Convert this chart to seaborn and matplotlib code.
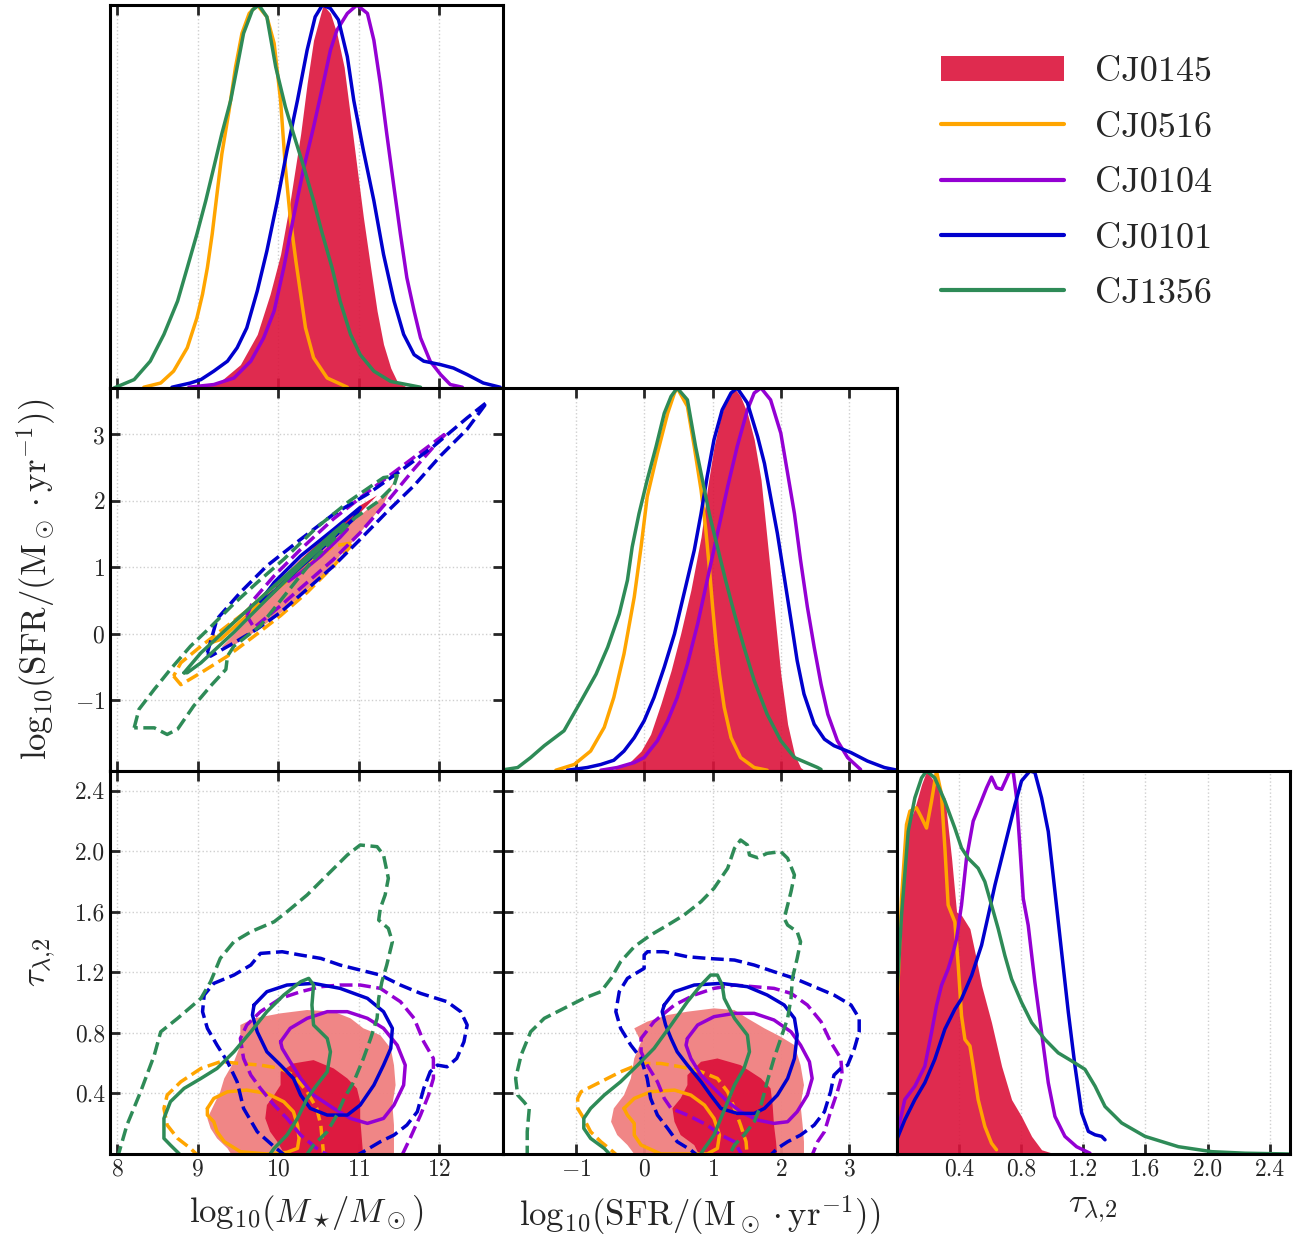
import matplotlib
matplotlib.use("Agg")
import matplotlib.pyplot as plt
import seaborn as sns
import pandas as pd
from matplotlib.patches import Patch
from matplotlib.lines import Line2D

# ---------------------------------------------------------------- data
SOURCES = ["CJ0145", "CJ0516", "CJ0104", "CJ0101", "CJ1356"]
LINE_COLORS = ["crimson", "orange", "darkviolet", "mediumblue", "seagreen"]

MASS_TICKS = [8, 9, 10, 11, 12]
SFR_TICKS = [-1, 0, 1, 2, 3]
SFR_TICK_LABELS = [r"$-1$", r"$0$", r"$1$", r"$2$", r"$3$"]
TAU_TICKS = [0.4, 0.8, 1.2, 1.6, 2.0, 2.4]
TAU_TICK_LABELS = ["0.4", "0.8", "1.2", "1.6", "2.0", "2.4"]

# 1D marginals (x, normalised density) — log10 stellar mass
M_PDF_CJ0145 = [(9.01,0.002),(9.28,0.017),(9.53,0.061),(9.74,0.140),(9.90,0.245),(10.03,0.349),(10.15,0.489),(10.28,0.664),(10.36,0.795),(10.44,0.908),(10.53,0.978),(10.56,1.0),(10.65,0.978),(10.73,0.926),(10.82,0.838),(10.90,0.707),(10.98,0.576),(11.06,0.445),(11.15,0.314),(11.23,0.201),(11.31,0.114),(11.40,0.052),(11.48,0.017),(11.60,0.002)]
M_PDF_CJ0516 = [(8.33,0.002),(8.54,0.013),(8.70,0.044),(8.87,0.105),(8.99,0.183),(9.06,0.245),(9.12,0.314),(9.18,0.402),(9.24,0.507),(9.30,0.611),(9.39,0.725),(9.47,0.838),(9.55,0.926),(9.64,0.978),(9.74,1.0),(9.86,0.969),(9.95,0.900),(10.03,0.751),(10.09,0.576),(10.15,0.445),(10.22,0.332),(10.28,0.245),(10.34,0.157),(10.44,0.079),(10.61,0.026),(10.86,0.002)]
M_PDF_CJ0104 = [(8.89,0.002),(9.20,0.009),(9.45,0.026),(9.66,0.070),(9.82,0.131),(9.95,0.201),(10.07,0.314),(10.19,0.445),(10.32,0.576),(10.44,0.681),(10.57,0.804),(10.65,0.882),(10.73,0.934),(10.86,0.978),(10.98,1.0),(11.11,0.978),(11.19,0.908),(11.27,0.795),(11.35,0.664),(11.44,0.524),(11.52,0.402),(11.60,0.288),(11.69,0.201),(11.77,0.131),(11.89,0.070),(12.02,0.035),(12.14,0.009),(12.29,0.002)]
M_PDF_CJ0101 = [(8.68,0.002),(8.91,0.013),(9.04,0.022),(9.20,0.044),(9.37,0.070),(9.49,0.105),(9.61,0.157),(9.74,0.253),(9.86,0.358),(9.99,0.489),(10.11,0.620),(10.24,0.751),(10.36,0.882),(10.46,0.969),(10.55,1.0),(10.65,0.991),(10.75,0.961),(10.86,0.865),(10.94,0.751),(11.06,0.620),(11.19,0.489),(11.31,0.349),(11.44,0.227),(11.56,0.140),(11.69,0.087),(11.81,0.070),(12.02,0.061),(12.18,0.052),(12.35,0.035),(12.55,0.013),(12.76,0.002)]
M_PDF_CJ1356 = [(7.96,0.0),(8.21,0.022),(8.41,0.070),(8.58,0.140),(8.75,0.227),(8.87,0.314),(8.99,0.402),(9.10,0.489),(9.20,0.576),(9.30,0.664),(9.41,0.751),(9.49,0.838),(9.57,0.926),(9.68,0.987),(9.76,1.0),(9.86,0.969),(9.97,0.838),(10.09,0.734),(10.19,0.664),(10.32,0.576),(10.44,0.489),(10.55,0.402),(10.67,0.314),(10.77,0.227),(10.90,0.140),(11.02,0.087),(11.19,0.044),(11.40,0.017),(11.77,0.002)]

# log10 SFR
S_PDF_CJ0145 = [(-0.49,0.002),(-0.25,0.017),(-0.05,0.052),(0.09,0.096),(0.24,0.175),(0.39,0.262),(0.53,0.358),(0.68,0.472),(0.83,0.611),(0.92,0.734),(1.02,0.847),(1.12,0.926),(1.22,0.978),(1.32,1.0),(1.41,0.978),(1.51,0.934),(1.61,0.865),(1.71,0.760),(1.80,0.603),(1.90,0.428),(2.0,0.253),(2.10,0.122),(2.20,0.044),(2.29,0.009),(2.34,0.002)]
S_PDF_CJ0516 = [(-1.30,0.002),(-1.03,0.017),(-0.79,0.052),(-0.59,0.114),(-0.45,0.192),(-0.30,0.306),(-0.15,0.454),(-0.05,0.585),(0.04,0.716),(0.19,0.830),(0.34,0.934),(0.44,0.987),(0.48,1.0),(0.63,0.952),(0.73,0.847),(0.83,0.734),(0.90,0.629),(0.95,0.533),(1.0,0.428),(1.05,0.332),(1.10,0.253),(1.17,0.166),(1.27,0.087),(1.41,0.035),(1.61,0.009),(1.80,0.002)]
S_PDF_CJ0104 = [(-0.64,0.002),(-0.40,0.009),(-0.15,0.022),(-0.005,0.035),(0.19,0.079),(0.34,0.131),(0.48,0.192),(0.63,0.279),(0.78,0.384),(0.92,0.498),(1.07,0.620),(1.22,0.742),(1.36,0.847),(1.51,0.943),(1.61,0.987),(1.71,1.0),(1.85,0.969),(2.0,0.882),(2.10,0.777),(2.20,0.672),(2.29,0.550),(2.39,0.428),(2.49,0.323),(2.59,0.227),(2.69,0.148),(2.83,0.079),(2.98,0.035),(3.17,0.004)]
S_PDF_CJ0101 = [(-1.13,0.002),(-0.84,0.009),(-0.64,0.017),(-0.45,0.028),(-0.30,0.052),(-0.15,0.087),(-0.005,0.131),(0.14,0.192),(0.29,0.271),(0.44,0.358),(0.58,0.463),(0.73,0.576),(0.83,0.672),(0.92,0.769),(1.02,0.865),(1.14,0.943),(1.27,0.987),(1.36,1.0),(1.51,0.961),(1.66,0.873),(1.76,0.803),(1.85,0.716),(1.95,0.620),(2.05,0.507),(2.15,0.393),(2.24,0.288),(2.34,0.201),(2.49,0.122),(2.64,0.083),(2.78,0.066),(3.03,0.048),(3.27,0.026),(3.52,0.009),(3.71,0.002)]
S_PDF_CJ1356 = [(-2.11,0.002),(-1.86,0.009),(-1.67,0.035),(-1.47,0.066),(-1.18,0.105),(-0.93,0.183),(-0.71,0.253),(-0.54,0.323),(-0.37,0.410),(-0.25,0.498),(-0.18,0.585),(-0.08,0.672),(0.04,0.760),(0.17,0.847),(0.29,0.934),(0.39,0.978),(0.48,1.0),(0.63,0.969),(0.75,0.847),(0.85,0.760),(0.95,0.672),(1.07,0.585),(1.19,0.498),(1.32,0.410),(1.46,0.323),(1.61,0.236),(1.80,0.148),(2.0,0.079),(2.20,0.035),(2.54,0.009),(2.59,0.004)]

# tau_lambda,2
T_PDF_CJ0145 = [(0.0,0.405),(0.042,0.755),(0.085,0.869),(0.117,0.904),(0.160,0.965),(0.192,1.0),(0.224,0.982),(0.310,0.930),(0.353,0.772),(0.385,0.632),(0.417,0.623),(0.471,0.588),(0.503,0.527),(0.546,0.440),(0.610,0.343),(0.675,0.229),(0.739,0.142),(0.803,0.098),(0.868,0.046),(0.932,0.011),(1.018,0.0)]
T_PDF_CJ0516 = [(0.0,0.361),(0.031,0.667),(0.063,0.860),(0.085,0.895),(0.127,0.904),(0.160,0.878),(0.192,0.851),(0.224,0.921),(0.256,1.0),(0.288,0.939),(0.310,0.799),(0.331,0.650),(0.374,0.606),(0.396,0.492),(0.417,0.361),(0.439,0.299),(0.471,0.282),(0.492,0.229),(0.524,0.142),(0.567,0.072),(0.610,0.028),(0.642,0.011)]
T_PDF_CJ0104 = [(0.0,0.046),(0.052,0.142),(0.117,0.177),(0.181,0.229),(0.224,0.317),(0.256,0.387),(0.288,0.440),(0.331,0.483),(0.364,0.527),(0.385,0.562),(0.417,0.650),(0.449,0.772),(0.492,0.869),(0.535,0.912),(0.578,0.956),(0.610,0.984),(0.642,0.956),(0.675,0.952),(0.728,1.0),(0.750,0.996),(0.771,0.930),(0.793,0.799),(0.814,0.667),(0.846,0.597),(0.889,0.448),(0.932,0.317),(0.975,0.186),(1.018,0.098),(1.082,0.046),(1.157,0.019),(1.243,0.002)]
T_PDF_CJ0101 = [(0.0,0.037),(0.052,0.089),(0.117,0.142),(0.181,0.186),(0.245,0.247),(0.310,0.326),(0.374,0.378),(0.417,0.405),(0.482,0.466),(0.546,0.545),(0.589,0.623),(0.632,0.702),(0.675,0.772),(0.718,0.842),(0.761,0.912),(0.803,0.974),(0.857,1.0),(0.889,0.996),(0.932,0.930),(0.975,0.842),(1.018,0.685),(1.061,0.527),(1.104,0.370),(1.147,0.229),(1.190,0.107),(1.233,0.059),(1.276,0.050),(1.318,0.046),(1.340,0.037)]
T_PDF_CJ1356 = [(0.0,0.405),(0.031,0.623),(0.074,0.842),(0.117,0.930),(0.160,0.982),(0.192,1.0),(0.245,0.982),(0.310,0.921),(0.374,0.851),(0.417,0.799),(0.460,0.772),(0.524,0.746),(0.567,0.711),(0.610,0.650),(0.653,0.588),(0.696,0.518),(0.739,0.457),(0.803,0.396),(0.868,0.343),(0.954,0.299),(1.039,0.264),(1.125,0.243),(1.211,0.221),(1.276,0.177),(1.340,0.124),(1.447,0.081),(1.597,0.046),(1.812,0.019),(2.027,0.006),(2.241,0.002),(2.520,0.0)]

# 2D credible contours (inner = 1 sigma, outer = 2 sigma): mass vs SFR
MS_OUT_CJ0145 = [(9.30,-0.20),(9.66,0.25),(10.03,0.72),(10.44,1.17),(10.86,1.62),(11.27,2.03),(11.44,2.28),(11.31,1.95),(10.94,1.40),(10.53,0.85),(10.11,0.38),(9.74,0.05),(9.42,-0.20)]
MS_IN_CJ0145 = [(9.95,0.72),(10.28,1.12),(10.69,1.57),(11.02,1.93),(11.23,2.08),(11.11,1.93),(10.69,1.42),(10.28,0.97),(9.99,0.67)]
MS_OUT_CJ0516 = [(8.70,-0.64),(8.79,-0.77),(9.04,-0.59),(9.37,-0.34),(9.70,-0.04),(10.03,0.27),(10.36,0.62),(10.69,1.02),(10.94,1.37),(10.69,1.32),(10.36,1.02),(10.03,0.72),(9.70,0.42),(9.37,0.12),(9.04,-0.19),(8.79,-0.44)]
MS_IN_CJ0516 = [(9.16,-0.14),(9.45,0.17),(9.86,0.62),(10.19,0.97),(10.44,1.22),(10.53,1.27),(10.36,1.07),(10.03,0.72),(9.66,0.32),(9.28,-0.09)]
MS_OUT_CJ0104 = [(9.61,0.27),(9.70,0.52),(9.95,0.87),(10.28,1.27),(10.69,1.73),(11.11,2.13),(11.44,2.43),(11.77,2.73),(12.10,3.03),(11.98,2.88),(11.69,2.48),(11.35,1.98),(11.02,1.52),(10.69,1.12),(10.36,0.77),(10.03,0.42),(9.70,0.09)]
MS_IN_CJ0104 = [(10.11,0.82),(10.28,1.02),(10.53,1.27),(10.77,1.55),(10.86,1.57),(10.77,1.45),(10.53,1.17),(10.28,0.92),(10.13,0.79)]
MS_OUT_CJ0101 = [(9.12,-0.29),(9.24,0.22),(9.53,0.62),(9.86,1.02),(10.28,1.42),(10.69,1.80),(11.11,2.10),(11.52,2.45),(11.93,2.82),(12.35,3.25),(12.60,3.49),(12.35,3.08),(12.02,2.68),(11.69,2.23),(11.35,1.83),(11.02,1.42),(10.69,1.02),(10.36,0.67),(10.03,0.32),(9.74,0.07),(9.45,-0.14),(9.16,-0.34)]
MS_IN_CJ0101 = [(9.78,0.49),(9.95,0.77),(10.28,1.17),(10.69,1.57),(11.02,1.90),(10.94,1.73),(10.53,1.27),(10.11,0.82),(9.82,0.49)]
MS_OUT_CJ1356 = [(8.21,-1.42),(8.27,-1.14),(8.46,-0.84),(8.66,-0.54),(8.91,-0.19),(9.16,0.10),(9.45,0.45),(9.74,0.77),(10.07,1.12),(10.48,1.60),(10.89,2.00),(11.31,2.35),(11.48,2.38),(11.44,2.23),(11.23,1.98),(10.94,1.73),(10.69,1.42),(10.44,1.12),(10.11,0.62),(9.78,0.12),(9.45,-0.19),(9.37,-0.34),(9.35,-0.54),(9.16,-0.79),(8.95,-1.09),(8.75,-1.44),(8.62,-1.52),(8.46,-1.42)]
MS_IN_CJ1356 = [(8.83,-0.59),(9.04,-0.29),(9.45,0.17),(9.86,0.62),(10.28,1.07),(10.69,1.52),(10.82,1.65),(10.69,1.47),(10.28,1.02),(9.86,0.52),(9.45,0.02),(9.04,-0.44),(8.87,-0.59)]

# mass vs tau
MT_OUT_CJ0145 = [(9.53,0.852),(9.70,0.896),(10.03,0.929),(10.36,0.951),(10.69,0.940),(10.90,0.896),(11.06,0.830),(11.27,0.785),(11.40,0.697),(11.44,0.587),(11.46,0.455),(11.42,0.323),(11.44,0.191),(11.44,0.081),(11.44,-0.03),(9.45,-0.03),(9.37,0.037),(9.24,0.103),(9.16,0.169),(9.12,0.235),(9.20,0.323),(9.28,0.411),(9.33,0.499),(9.45,0.609),(9.53,0.719)]
MT_IN_CJ0145 = [(10.03,0.543),(10.19,0.598),(10.44,0.620),(10.69,0.565),(10.86,0.499),(10.98,0.433),(11.02,0.345),(11.02,0.235),(11.04,0.103),(11.06,-0.03),(10.11,-0.03),(9.99,0.081),(9.90,0.147),(9.84,0.235),(9.86,0.323),(9.95,0.389),(10.03,0.455)]
MT_OUT_CJ0516 = [(9.04,-0.03),(8.91,0.037),(8.75,0.103),(8.62,0.191),(8.58,0.301),(8.62,0.389),(8.79,0.477),(9.04,0.565),(9.28,0.609),(9.53,0.598),(9.78,0.587),(10.03,0.565),(10.19,0.521),(10.36,0.411),(10.48,0.301),(10.53,0.191),(10.55,0.081),(10.57,-0.03)]
MT_IN_CJ0516 = [(9.12,0.301),(9.20,0.367),(9.37,0.411),(9.61,0.422),(9.86,0.400),(10.07,0.345),(10.19,0.279),(10.24,0.191),(10.26,0.103),(10.24,0.037),(10.11,0.011),(9.86,0.0),(9.53,0.015),(9.33,0.081),(9.24,0.147),(9.20,0.213),(9.12,0.257)]
MT_OUT_CJ0104 = [(10.69,-0.03),(10.48,0.037),(10.28,0.125),(10.11,0.235),(9.95,0.323),(9.78,0.433),(9.66,0.521),(9.57,0.631),(9.53,0.763),(9.61,0.852),(9.78,0.940),(10.03,1.028),(10.28,1.072),(10.53,1.105),(10.77,1.116),(11.02,1.116),(11.27,1.094),(11.52,1.006),(11.69,0.896),(11.81,0.741),(11.93,0.631),(11.93,0.499),(11.87,0.389),(11.77,0.257),(11.64,0.103),(11.52,-0.03)]
MT_IN_CJ0104 = [(10.03,0.741),(10.15,0.830),(10.36,0.896),(10.61,0.940),(10.86,0.940),(11.11,0.896),(11.31,0.830),(11.48,0.719),(11.58,0.587),(11.56,0.455),(11.44,0.323),(11.31,0.235),(11.11,0.202),(10.90,0.235),(10.69,0.301),(10.44,0.389),(10.28,0.499),(10.15,0.609),(10.05,0.697)]
MT_OUT_CJ0101 = [(10.11,-0.02),(9.95,0.048),(9.74,0.147),(9.57,0.301),(9.49,0.477),(9.37,0.609),(9.24,0.719),(9.12,0.830),(9.06,0.940),(9.08,1.050),(9.20,1.127),(9.45,1.182),(9.66,1.248),(9.78,1.325),(10.05,1.336),(10.28,1.314),(10.53,1.292),(10.77,1.248),(11.02,1.215),(11.27,1.182),(11.52,1.116),(11.77,1.061),(12.10,1.006),(12.27,0.940),(12.35,0.852),(12.31,0.741),(12.22,0.631),(12.10,0.576),(11.98,0.587),(11.89,0.543),(11.81,0.433),(11.73,0.279),(11.60,0.191),(11.44,0.125),(11.27,0.081),(11.06,0.015),(10.94,-0.02)]
MT_IN_CJ0101 = [(9.70,0.984),(9.86,1.072),(10.11,1.116),(10.44,1.127),(10.77,1.094),(11.11,1.028),(11.31,0.940),(11.42,0.830),(11.40,0.697),(11.31,0.587),(11.19,0.455),(11.02,0.323),(10.86,0.257),(10.61,0.257),(10.40,0.301),(10.28,0.389),(10.19,0.499),(10.03,0.587),(9.86,0.675),(9.74,0.807),(9.68,0.918)]
MT_OUT_CJ1356 = [(8.0,-0.03),(8.12,0.191),(8.29,0.411),(8.46,0.653),(8.54,0.807),(8.75,0.896),(9.04,1.028),(9.16,1.138),(9.28,1.292),(9.45,1.402),(9.66,1.468),(9.95,1.534),(10.11,1.600),(10.36,1.711),(10.61,1.843),(10.86,1.975),(11.02,2.041),(11.23,2.030),(11.31,1.975),(11.37,1.821),(11.33,1.711),(11.27,1.622),(11.25,1.545),(11.37,1.490),(11.42,1.402),(11.35,1.248),(11.29,1.138),(11.25,1.028),(11.23,0.896),(11.15,0.763),(11.06,0.631),(10.94,0.477),(10.82,0.367),(10.73,0.257),(10.61,0.147),(10.44,0.059),(10.32,-0.03)]
MT_IN_CJ1356 = [(8.83,-0.03),(8.66,0.059),(8.58,0.103),(8.58,0.235),(8.66,0.345),(8.83,0.433),(9.04,0.499),(9.24,0.565),(9.45,0.675),(9.66,0.807),(9.86,0.940),(10.07,1.050),(10.28,1.138),(10.38,1.160),(10.44,1.116),(10.42,0.984),(10.44,0.852),(10.61,0.763),(10.65,0.675),(10.61,0.543),(10.48,0.455),(10.36,0.367),(10.24,0.235),(10.11,0.125),(9.95,0.037),(9.86,-0.03)]

# SFR vs tau
ST_OUT_CJ0145 = [(-0.15,0.830),(0.04,0.874),(0.34,0.918),(0.63,0.940),(1.02,0.962),(1.32,0.951),(1.51,0.896),(1.76,0.830),(2.0,0.774),(2.20,0.719),(2.29,0.587),(2.34,0.455),(2.29,0.323),(2.32,0.191),(2.34,0.081),(2.34,-0.03),(-0.10,-0.03),(-0.25,0.059),(-0.40,0.125),(-0.49,0.213),(-0.45,0.301),(-0.30,0.389),(-0.20,0.499),(-0.15,0.631),(-0.05,0.741)]
ST_IN_CJ0145 = [(0.63,0.521),(0.83,0.609),(1.07,0.631),(1.41,0.587),(1.71,0.499),(1.85,0.433),(1.88,0.323),(1.90,0.191),(1.93,0.081),(1.95,-0.03),(0.83,-0.03),(0.73,0.059),(0.53,0.125),(0.44,0.213),(0.41,0.301),(0.53,0.367),(0.63,0.455)]
ST_OUT_CJ0516 = [(-0.35,-0.03),(-0.49,0.026),(-0.64,0.081),(-0.79,0.147),(-0.89,0.235),(-0.98,0.301),(-0.98,0.367),(-0.93,0.411),(-0.64,0.477),(-0.35,0.543),(-0.05,0.598),(0.24,0.598),(0.53,0.576),(0.83,0.543),(1.07,0.499),(1.22,0.411),(1.32,0.301),(1.41,0.191),(1.49,0.081),(1.51,-0.03)]
ST_IN_CJ0516 = [(-0.30,0.301),(-0.15,0.367),(0.09,0.411),(0.44,0.422),(0.68,0.389),(0.88,0.323),(1.02,0.235),(1.10,0.125),(1.07,0.037),(0.92,0.0),(0.24,0.0),(-0.05,0.059),(-0.15,0.125),(-0.15,0.202),(-0.25,0.257)]
ST_OUT_CJ0104 = [(1.46,-0.03),(1.32,0.081),(1.12,0.125),(0.92,0.191),(0.63,0.257),(0.39,0.301),(0.29,0.367),(0.19,0.477),(0.04,0.587),(-0.05,0.675),(-0.05,0.763),(0.14,0.874),(0.44,0.984),(0.73,1.050),(1.02,1.094),(1.32,1.116),(1.61,1.105),(1.90,1.094),(2.15,1.061),(2.39,0.984),(2.59,0.874),(2.73,0.741),(2.88,0.631),(2.90,0.521),(2.83,0.411),(2.73,0.279),(2.64,0.147),(2.54,0.081),(2.44,-0.03)]
ST_IN_CJ0104 = [(0.63,0.763),(0.78,0.852),(1.02,0.907),(1.32,0.929),(1.61,0.929),(1.90,0.885),(2.15,0.807),(2.29,0.719),(2.42,0.609),(2.46,0.499),(2.39,0.389),(2.24,0.279),(2.10,0.213),(1.90,0.202),(1.66,0.224),(1.41,0.279),(1.22,0.345),(1.02,0.433),(0.83,0.521),(0.68,0.631),(0.61,0.719)]
ST_OUT_CJ0101 = [(0.83,-0.03),(0.68,0.026),(0.48,0.081),(0.34,0.169),(0.19,0.257),(0.09,0.367),(0.04,0.499),(-0.05,0.631),(-0.20,0.719),(-0.35,0.830),(-0.42,0.940),(-0.37,1.072),(-0.25,1.160),(-0.005,1.226),(-0.005,1.314),(0.044,1.336),(0.29,1.336),(0.63,1.303),(0.92,1.292),(1.32,1.281),(1.61,1.248),(1.90,1.204),(2.20,1.160),(2.49,1.105),(2.78,1.050),(3.03,0.984),(3.15,0.896),(3.15,0.807),(3.08,0.697),(2.98,0.587),(2.88,0.565),(2.78,0.521),(2.73,0.411),(2.64,0.279),(2.49,0.191),(2.29,0.125),(2.10,0.081),(1.95,0.037),(1.80,-0.03)]
ST_IN_CJ0101 = [(0.29,0.984),(0.44,1.072),(0.73,1.116),(1.12,1.127),(1.51,1.105),(1.80,1.050),(2.05,0.984),(2.20,0.896),(2.24,0.785),(2.20,0.631),(2.10,0.499),(1.95,0.389),(1.76,0.301),(1.61,0.268),(1.36,0.268),(1.12,0.301),(0.97,0.389),(0.83,0.477),(0.63,0.587),(0.48,0.675),(0.39,0.763),(0.31,0.852),(0.26,0.940)]
ST_OUT_CJ1356 = [(-1.72,-0.03),(-1.72,0.147),(-1.69,0.301),(-1.77,0.345),(-1.86,0.389),(-1.89,0.499),(-1.81,0.653),(-1.67,0.807),(-1.47,0.896),(-1.18,0.962),(-0.89,1.028),(-0.64,1.072),(-0.49,1.160),(-0.35,1.270),(-0.15,1.369),(0.09,1.446),(0.34,1.512),(0.58,1.578),(0.83,1.667),(1.02,1.755),(1.22,1.887),(1.32,2.019),(1.41,2.074),(1.51,2.041),(1.54,1.975),(1.66,1.957),(1.80,1.986),(2.0,1.997),(2.10,1.953),(2.20,1.843),(2.15,1.733),(2.10,1.644),(2.05,1.556),(2.10,1.512),(2.24,1.468),(2.29,1.402),(2.24,1.292),(2.17,1.160),(2.15,1.028),(2.10,0.896),(2.0,0.763),(1.90,0.631),(1.80,0.477),(1.71,0.323),(1.61,0.213),(1.46,0.125),(1.32,0.059),(1.22,-0.03)]
ST_IN_CJ1356 = [(-0.45,-0.03),(-0.59,0.037),(-0.79,0.103),(-0.89,0.169),(-0.89,0.235),(-0.79,0.301),(-0.59,0.389),(-0.35,0.477),(-0.10,0.587),(0.14,0.697),(0.39,0.852),(0.63,1.006),(0.83,1.116),(0.97,1.182),(1.07,1.182),(1.14,1.116),(1.17,1.028),(1.32,0.896),(1.51,0.785),(1.54,0.675),(1.46,0.565),(1.32,0.455),(1.22,0.345),(1.12,0.235),(1.02,0.125),(0.88,0.037),(0.78,-0.03)]

# ---------------------------------------------------------------- style
sns.set_style("white")
plt.rcParams.update({
    "font.family": "serif",
    "font.serif": ["cmr10", "DejaVu Serif"],
    "mathtext.fontset": "cm",
    "axes.formatter.use_mathtext": True,
    "axes.unicode_minus": True,
})

LW = 2.5
SPINE_W = 2.2
TICK_FS = 17
LABEL_FS = 25
MASS_LIM = (7.91, 12.80)
SFR_LIM = (-2.07, 3.70)
TAU_LIM = (0.0, 2.53)

fig, axes = plt.subplots(3, 3, figsize=(13.07, 12.47), dpi=100)
fig.subplots_adjust(left=0.0842, right=0.987, bottom=0.0746, top=0.996, wspace=0, hspace=0)

colors = dict(zip(SOURCES, LINE_COLORS))


def draw_line(ax, pts, color, ls="-", closed=False):
    p = list(pts) + ([pts[0]] if closed else [])
    df = pd.DataFrame(p, columns=["x", "y"])
    sns.lineplot(data=df, x="x", y="y", ax=ax, color=color, linewidth=LW,
                 linestyle=ls, sort=False, estimator=None)


def style_axis(ax):
    for s in ax.spines.values():
        s.set_linewidth(SPINE_W)
        s.set_color("black")
    ax.grid(True, color="#cfcfcf", linestyle=":", linewidth=1.0)
    ax.set_axisbelow(True)
    ax.set_xlabel("")
    ax.set_ylabel("")


# ------------------------------------------------------------- 1D panels
pdfs = {
    0: ([M_PDF_CJ0145, M_PDF_CJ0516, M_PDF_CJ0104, M_PDF_CJ0101, M_PDF_CJ1356], MASS_LIM, MASS_TICKS),
    1: ([S_PDF_CJ0145, S_PDF_CJ0516, S_PDF_CJ0104, S_PDF_CJ0101, S_PDF_CJ1356], SFR_LIM, SFR_TICKS),
    2: ([T_PDF_CJ0145, T_PDF_CJ0516, T_PDF_CJ0104, T_PDF_CJ0101, T_PDF_CJ1356], TAU_LIM, TAU_TICKS),
}
for i, (curves, lim, ticks) in pdfs.items():
    ax = axes[i, i]
    red = curves[0]
    xs = [p[0] for p in red]
    ys = [p[1] for p in red]
    ax.fill_between(xs, 0, ys, color="crimson", alpha=0.9, linewidth=0, zorder=2)
    for src, pts in zip(SOURCES[1:], curves[1:]):
        draw_line(ax, pts, colors[src])
    ax.set_xlim(*lim)
    ax.set_ylim(0, 1.0)
    ax.set_xticks(ticks)
    ax.set_yticks([])
    style_axis(ax)
    ax.tick_params(axis="x", direction="in", length=7, width=2, top=(i < 2), bottom=True,
                   labelbottom=False, labelsize=TICK_FS)

# ------------------------------------------------------------- 2D panels
pairs = {
    (1, 0): ([MS_OUT_CJ0145, MS_OUT_CJ0516, MS_OUT_CJ0104, MS_OUT_CJ0101, MS_OUT_CJ1356],
             [MS_IN_CJ0145, MS_IN_CJ0516, MS_IN_CJ0104, MS_IN_CJ0101, MS_IN_CJ1356],
             MASS_LIM, SFR_LIM, MASS_TICKS, SFR_TICKS),
    (2, 0): ([MT_OUT_CJ0145, MT_OUT_CJ0516, MT_OUT_CJ0104, MT_OUT_CJ0101, MT_OUT_CJ1356],
             [MT_IN_CJ0145, MT_IN_CJ0516, MT_IN_CJ0104, MT_IN_CJ0101, MT_IN_CJ1356],
             MASS_LIM, TAU_LIM, MASS_TICKS, TAU_TICKS),
    (2, 1): ([ST_OUT_CJ0145, ST_OUT_CJ0516, ST_OUT_CJ0104, ST_OUT_CJ0101, ST_OUT_CJ1356],
             [ST_IN_CJ0145, ST_IN_CJ0516, ST_IN_CJ0104, ST_IN_CJ0101, ST_IN_CJ1356],
             SFR_LIM, TAU_LIM, SFR_TICKS, TAU_TICKS),
}
for (r, c), (outs, ins, xlim, ylim, xt, yt) in pairs.items():
    ax = axes[r, c]
    o = outs[0]
    ax.fill([p[0] for p in o], [p[1] for p in o], color="lightcoral", linewidth=0, alpha=0.95, zorder=2)
    n = ins[0]
    ax.fill([p[0] for p in n], [p[1] for p in n], color="crimson", linewidth=0, alpha=0.95, zorder=2)
    for src, po, pi in zip(SOURCES[1:], outs[1:], ins[1:]):
        draw_line(ax, po, colors[src], ls="--", closed=True)
        draw_line(ax, pi, colors[src], ls="-", closed=True)
    ax.set_xlim(*xlim)
    ax.set_ylim(*ylim)
    ax.set_xticks(xt)
    ax.set_yticks(yt)
    style_axis(ax)
    ax.tick_params(direction="in", length=7, width=2, top=True, right=True,
                   bottom=True, left=True, labelsize=TICK_FS,
                   labelbottom=(r == 2), labelleft=(c == 0))

for (r, c) in [(0, 1), (0, 2), (1, 2)]:
    axes[r, c].axis("off")

# tick labels
axes[2, 0].set_xticklabels([f"${t}$" for t in MASS_TICKS])
axes[2, 1].set_xticklabels(SFR_TICK_LABELS)
axes[2, 2].set_xticks(TAU_TICKS)
axes[2, 2].set_xticklabels(TAU_TICK_LABELS)
axes[2, 2].tick_params(axis="x", labelbottom=True, top=False)
axes[1, 0].set_yticklabels(SFR_TICK_LABELS)
axes[2, 0].set_yticklabels(TAU_TICK_LABELS)

# axis labels
mass_label = r"$\mathrm{log}_{10}(M_\star\!/M_\odot)$"
sfr_label = r"$\mathrm{log}_{10}(\mathrm{SFR}/(\mathrm{M}_\odot\cdot\mathrm{yr}^{-1}))$"
tau_label = r"$\tau_{\lambda,\!2}$"
axes[2, 0].set_xlabel(mass_label, fontsize=LABEL_FS, labelpad=9)
axes[2, 1].set_xlabel(sfr_label, fontsize=LABEL_FS, labelpad=9)
axes[2, 2].set_xlabel(tau_label, fontsize=LABEL_FS, labelpad=9)
axes[1, 0].set_ylabel(sfr_label, fontsize=LABEL_FS, labelpad=12)
axes[2, 0].set_ylabel(tau_label, fontsize=LABEL_FS, labelpad=12)

# legend
handles = [Patch(facecolor="crimson", alpha=0.9, edgecolor="none")] + \
          [Line2D([0], [0], color=col, lw=3) for col in LINE_COLORS[1:]]
fig.legend(handles, SOURCES, loc="upper left", bbox_to_anchor=(0.720, 0.955),
           frameon=False, fontsize=26, handlelength=3.4, handletextpad=0.85,
           labelspacing=0.64, borderpad=0, borderaxespad=0)

fig.savefig("out.png", dpi=100)
